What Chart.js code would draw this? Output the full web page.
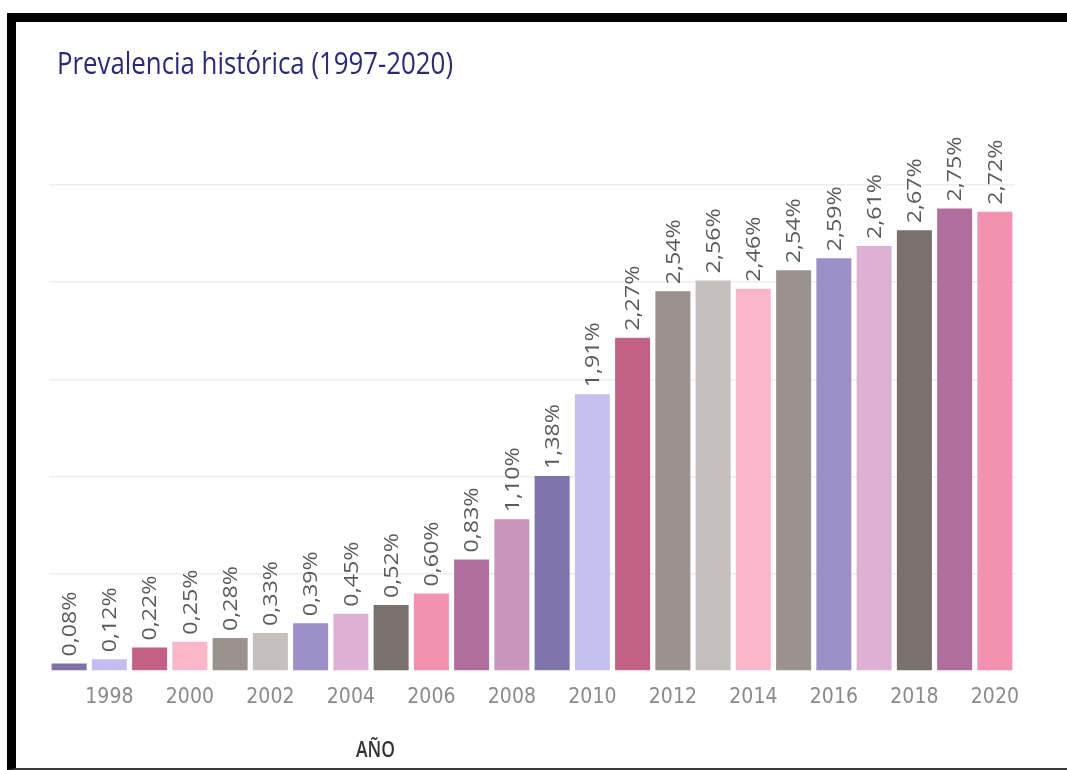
<!DOCTYPE html>
<html lang="es">
<head>
<meta charset="utf-8">
<script src="https://cdn.jsdelivr.net/npm/chart.js@4.4.1/dist/chart.umd.min.js"></script>
<style>
  html, body { margin:0; padding:0; background:#fff; width:1067px; height:770px; overflow:hidden; }
  #frame { position:absolute; left:7px; top:13px; width:1090px; height:757px; box-sizing:border-box;
           border-top:9px solid #000; border-left:9px solid #000; border-bottom:2px solid #3a3a3a; }
  #c { position:absolute; left:0; top:0; }
  #title { position:absolute; left:57px; top:44px; font-size:31px; font-weight:500; color:#2b2a78;
           white-space:nowrap; transform-origin:0 0; line-height:1.2; }
  #xtitle { position:absolute; left:356px; top:735px; font-size:22px; font-weight:600; color:#333;
            white-space:nowrap; transform-origin:0 0; line-height:1.2; }
</style>
</head>
<body>
<div id="frame"></div>
<canvas id="c" width="1067" height="770"></canvas>
<div id="title">Prevalencia histórica (1997-2020)</div>
<div id="xtitle">AÑO</div>
<script>
// ---- data ----
const years = ['1997','1998','1999','2000','2001','2002','2003','2004','2005','2006','2007','2008',
               '2009','2010','2011','2012','2013','2014','2015','2016','2017','2018','2019','2020'];
// printed prevalence labels (%)
const prevalencia = [0.08,0.12,0.22,0.25,0.28,0.33,0.39,0.45,0.52,0.60,0.83,1.10,
                     1.38,1.91,2.27,2.54,2.56,2.46,2.54,2.59,2.61,2.67,2.75,2.72];
// bar heights as read against the (unlabelled) gridlines, in gridline units
const barHeights = [0.076,0.120,0.241,0.302,0.339,0.391,0.490,0.590,0.679,0.796,1.146,1.560,
                    2.005,2.845,3.428,3.904,4.017,3.932,4.120,4.244,4.370,4.532,4.755,4.724];
const xTickLabels = ['1998','2000','2002','2004','2006','2008','2010','2012','2014','2016','2018','2020'];
const gridSteps = [0,1,2,3,4,5];

// ---- styles ----
const barColors = ['#7e70a9','#c5bdf0','#c26085','#fbb6cc','#9b918f','#c5bfbd','#9d90c8','#dcb1d4',
                   '#7a706d','#f391b0','#b06e9e','#c896bc','#7f73ab','#c5c0ef','#c26085','#9b918f',
                   '#c5bfbd','#fbb6cc','#9b918f','#9d90c8','#dcb1d4','#7a706d','#b06e9e','#f391b0'];

function hasFont(name){
  const c = document.createElement('canvas').getContext('2d');
  const s = 'abcdefghijklmnopqrstuvwxyz0123456789ABCDEF';
  c.font = '40px monospace'; const w0 = c.measureText(s).width;
  c.font = '40px "' + name + '", monospace'; const w1 = c.measureText(s).width;
  return Math.abs(w1 - w0) > 0.5;
}
const narrow = hasFont('Liberation Sans Narrow') ? '"Liberation Sans Narrow"' :
               (hasFont('DejaVu Sans Condensed') ? '"DejaVu Sans Condensed"' : null);
const baseFont = '"Open Sans", "Noto Sans", sans-serif';
const tickFont = narrow ? {family: narrow, size: 21} : {family: baseFont, size: 17};
const labelFamily = baseFont;

function fmt(v){ return v.toFixed(2).replace('.', ',') + '%'; }

// fit html texts to target widths
function fitText(id, family, targetW){
  const el = document.getElementById(id);
  el.style.fontFamily = family;
  const w = el.getBoundingClientRect().width;
  el.style.transform = 'scaleX(' + (targetW / w) + ')';
}
fitText('title', baseFont, 396);
fitText('xtitle', baseFont, 39);

const valueLabels = {
  id: 'valueLabels',
  afterDatasetsDraw(chart){
    const ctx = chart.ctx;
    const meta = chart.getDatasetMeta(0);
    ctx.save();
    ctx.fillStyle = '#5a5a5a';
    ctx.font = '20px ' + labelFamily;
    ctx.textAlign = 'left';
    ctx.textBaseline = 'middle';
    const stretch = 65 / ctx.measureText('0,08%').width;
    meta.data.forEach((bar, i) => {
      ctx.save();
      ctx.translate(bar.x + 1, bar.y - 7);
      ctx.rotate(-Math.PI / 2);
      ctx.scale(stretch, 1);
      ctx.fillText(fmt(prevalencia[i]), 0, 0);
      ctx.restore();
    });
    ctx.restore();
  }
};

new Chart(document.getElementById('c'), {
  type: 'bar',
  data: {
    labels: years,
    datasets: [{
      data: barHeights,
      backgroundColor: barColors,
      borderWidth: 0,
      barPercentage: 0.87,
      categoryPercentage: 1.0
    }]
  },
  options: {
    responsive: false,
    animation: false,
    devicePixelRatio: 1,
    layout: { padding: { left: 49, right: 52, top: 100, bottom: 59 } },
    plugins: { legend: { display: false }, tooltip: { enabled: false }, title: { display: false } },
    scales: {
      x: {
        grid: { display: false, drawTicks: false },
        border: { display: false },
        afterFit(s){ s.height = 40; },
        ticks: {
          autoSkip: false, maxRotation: 0, minRotation: 0, padding: 14,
          color: '#8a8a8a', font: tickFont,
          callback(v, i){ const l = years[i]; return xTickLabels.includes(l) ? l : ''; }
        }
      },
      y: {
        min: 0, max: 5.872,
        afterFit(s){ s.width = 0; },
        afterBuildTicks(s){ s.ticks = gridSteps.map(v => ({ value: v })); },
        ticks: { display: false },
        grid: { color: c => (c.tick && c.tick.value === 0) ? 'rgba(0,0,0,0)' : '#eeeeee', lineWidth: 1.5, drawTicks: false },
        border: { display: false }
      }
    }
  },
  plugins: [valueLabels]
});
</script>
</body>
</html>
